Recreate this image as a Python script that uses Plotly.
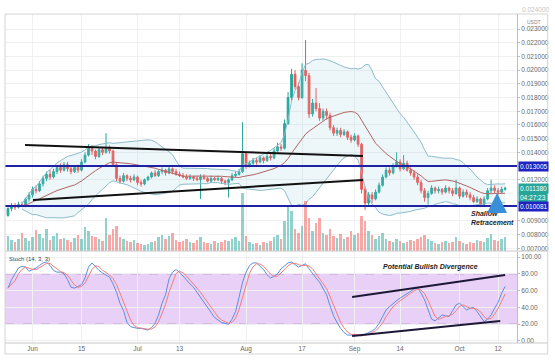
import pandas as pd
import plotly.graph_objects as go

# ---------------- data (daily, starting 2020-05-25) ----------------
start_date = "2020-05-25"
opens = [
    .00940, .00990, .01010, .01000, .01020, .01010, .01060, .01090, .01130, .01120,
    .01170, .01210, .01240, .01220, .01260, .01290, .01270, .01310, .01280, .01260,
    .01290, .01270, .01330, .01380, .01430, .01410, .01370, .01420, .01400, .01430,
    .01410, .01310, .01210, .01190, .01230, .01210, .01200, .01220, .01180, .01170,
    .01200, .01220, .01250, .01230, .01260, .01270, .01250, .01280, .01260, .01240,
    .01230, .01220, .01210, .01220, .01210, .01200, .01220, .01210, .01190, .01210,
    .01200, .01210, .01190, .01180, .01200, .01230, .01240, .01260, .01390, .01300,
    .01320, .01340, .01330, .01360, .01340, .01370, .01360, .01410, .01440, .01430,
    .01610, .01800, .01970, .01880, .01800, .02000, .01960, .01680, .01760, .01720,
    .01650, .01700, .01670, .01580, .01540, .01560, .01530, .01550, .01510, .01490,
    .01520, .01460, .01130, .01030, .01090, .01060, .01110, .01160, .01220, .01270,
    .01250, .01300, .01330, .01280, .01320, .01270, .01250, .01220, .01180, .01120,
    .01070, .01100, .01140, .01120, .01130, .01110, .01140, .01120, .01100, .01140,
    .01080, .01110, .01090, .01070, .01040, .01060, .01020, .01060, .01120, .01140,
    .01120, .01110, .01130,
]
highs = [
    .01000, .01030, .01030, .01040, .01040, .01070, .01110, .01150, .01160, .01190,
    .01230, .01260, .01270, .01280, .01310, .01320, .01330, .01330, .01300, .01300,
    .01310, .01350, .01400, .01460, .01450, .01420, .01440, .01440, .01540, .01450,
    .01420, .01320, .01230, .01250, .01240, .01230, .01240, .01230, .01200, .01210,
    .01230, .01260, .01270, .01270, .01290, .01280, .01300, .01290, .01280, .01260,
    .01250, .01240, .01240, .01230, .01230, .01240, .01240, .01220, .01230, .01220,
    .01230, .01220, .01200, .01210, .01250, .01260, .01280, .01620, .01400, .01340,
    .01360, .01360, .01380, .01370, .01390, .01390, .01430, .01470, .01460, .01640,
    .01840, .02010, .02000, .01910, .02050, .02220, .01980, .01790, .01870, .01760,
    .01720, .01720, .01690, .01600, .01580, .01580, .01570, .01560, .01530, .01540,
    .01530, .01470, .01150, .01110, .01110, .01130, .01180, .01240, .01290, .01290,
    .01320, .01400, .01350, .01380, .01340, .01290, .01270, .01240, .01200, .01140,
    .01120, .01160, .01150, .01150, .01140, .01160, .01150, .01140, .01200, .01150,
    .01130, .01130, .01110, .01090, .01080, .01070, .01080, .01140, .01200, .01160,
    .01140, .01150, .01150,
]
lows = [
    .00930, .00970, .00980, .00990, .01000, .01000, .01040, .01070, .01100, .01110,
    .01150, .01190, .01200, .01210, .01240, .01250, .01260, .01260, .01240, .01250,
    .01250, .01260, .01320, .01370, .01380, .01350, .01360, .01380, .01390, .01390,
    .01300, .01190, .01170, .01180, .01190, .01180, .01190, .01160, .01150, .01160,
    .01190, .01210, .01220, .01220, .01240, .01230, .01240, .01240, .01230, .01220,
    .01210, .01200, .01200, .01190, .01190, .01060, .01200, .01180, .01180, .01190,
    .01190, .01170, .01160, .01070, .01190, .01220, .01230, .01250, .01280, .01290,
    .01310, .01310, .01320, .01320, .01330, .01340, .01350, .01400, .01410, .01420,
    .01600, .01780, .01860, .01780, .01790, .01920, .01650, .01660, .01700, .01630,
    .01630, .01640, .01560, .01520, .01520, .01510, .01520, .01490, .01470, .01480,
    .01440, .01100, .00980, .01010, .01030, .01050, .01100, .01150, .01210, .01230,
    .01240, .01290, .01260, .01270, .01260, .01230, .01200, .01160, .01100, .01040,
    .01020, .01090, .01100, .01100, .01090, .01100, .01100, .01080, .01090, .01060,
    .01070, .01070, .01050, .01030, .01030, .01000, .01010, .01050, .01100, .01100,
    .01090, .01100, .01120,
]
closes = [
    .00990, .01010, .01000, .01020, .01010, .01060, .01090, .01130, .01120, .01170,
    .01210, .01240, .01220, .01260, .01290, .01270, .01310, .01280, .01260, .01290,
    .01270, .01330, .01380, .01430, .01410, .01370, .01420, .01400, .01430, .01410,
    .01310, .01210, .01190, .01230, .01210, .01200, .01220, .01180, .01170, .01200,
    .01220, .01250, .01230, .01260, .01270, .01250, .01280, .01260, .01240, .01230,
    .01220, .01210, .01220, .01210, .01200, .01220, .01210, .01190, .01210, .01200,
    .01210, .01190, .01180, .01200, .01230, .01240, .01260, .01390, .01300, .01320,
    .01340, .01330, .01360, .01340, .01370, .01360, .01410, .01440, .01430, .01610,
    .01800, .01970, .01880, .01800, .02000, .01960, .01680, .01760, .01720, .01650,
    .01700, .01670, .01580, .01540, .01560, .01530, .01550, .01510, .01490, .01520,
    .01460, .01130, .01030, .01090, .01060, .01110, .01160, .01220, .01270, .01250,
    .01300, .01330, .01280, .01320, .01270, .01250, .01220, .01180, .01120, .01070,
    .01100, .01140, .01120, .01130, .01110, .01140, .01120, .01100, .01140, .01080,
    .01110, .01090, .01070, .01040, .01060, .01020, .01060, .01120, .01140, .01120,
    .01110, .01130, .01138,
]
volumes = [
    15, 11, 9, 12, 18, 13, 10, 14, 21, 17,
    13, 22, 11, 15, 18, 12, 13, 11, 9, 13,
    16, 12, 24, 20, 15, 14, 12, 10, 33, 16,
    22, 25, 14, 12, 10, 9, 11, 8, 7, 6,
    7, 9, 10, 14, 16, 12, 15, 18, 11, 9,
    10, 12, 9, 8, 11, 14, 9, 8, 7, 10,
    8, 9, 11, 10, 12, 14, 10, 58, 15, 9,
    7, 8, 6, 9, 8, 10, 14, 16, 12, 30,
    45, 40, 22, 18, 25, 50, 33, 20, 28, 33,
    18, 16, 22, 15, 13, 17, 12, 14, 20, 16,
    18, 35, 30, 20, 16, 12, 15, 18, 12, 10,
    9, 12, 10, 8, 9, 11, 10, 12, 14, 16,
    12, 10, 8, 7, 9, 10, 8, 9, 14, 10,
    8, 7, 9, 8, 11, 10, 9, 13, 17, 11,
    10, 12, 14,
]
stoch_k = [
    63, 73, 80, 87, 89, 88, 83, 85, 87, 90,
    93, 94, 90, 84, 82, 82, 80, 73, 64, 63,
    65, 67, 75, 88, 93, 88, 84, 81, 79, 76,
    68, 58, 45, 36, 22, 17, 16, 15, 15, 14,
    13, 16, 21, 31, 45, 55, 74, 82, 85, 82,
    77, 73, 68, 64, 58, 52, 46, 40, 33, 28,
    25, 22, 21, 20, 26, 35, 52, 70, 82, 90,
    93, 93, 89, 85, 79, 75, 77, 80, 86, 90,
    93, 94, 91, 88, 90, 92, 86, 80, 75, 70,
    62, 55, 42, 30, 22, 15, 10, 7, 7, 8,
    7, 6, 8, 10, 12, 15, 21, 29, 37, 41,
    45, 48, 51, 54, 57, 60, 62, 63, 57, 49,
    38, 26, 24, 27, 31, 30, 29, 36, 43, 45,
    41, 37, 39, 40, 35, 29, 23, 26, 31, 39,
    46, 57, 65,
]
tick_dates = ["2020-06-01", "2020-06-15", "2020-07-01", "2020-07-13", "2020-08-01",
              "2020-08-17", "2020-09-01", "2020-09-14", "2020-10-01", "2020-10-12"]
tick_text = ["Jun", "15", "Jul", "13", "Aug", "17", "Sep", "14", "Oct", "12"]
price_ticks = [0.007, 0.008, 0.009, 0.012, 0.013, 0.014, 0.015, 0.016, 0.017,
               0.018, 0.019, 0.020, 0.021, 0.022, 0.023]
stoch_ticks = [0, 20, 40, 60, 80, 100]
level_high = 0.013005
level_low = 0.010081
last_price = 0.011380
countdown = "04:27:23"

# ---------------- derived ----------------
dates = pd.date_range(start_date, periods=len(closes), freq="D")
t0 = dates[0]


def day(i):
    return t0 + pd.Timedelta(days=i)


cl = pd.Series(closes)
basis = cl.rolling(20, min_periods=5).mean()
sd = cl.rolling(20, min_periods=5).std(ddof=0)
upper = basis + 2 * sd
lower = basis - 2 * sd
stoch_d = pd.Series(stoch_k).rolling(3, min_periods=1).mean()

UP = "#26a69a"
DN = "#ef5350"
vol_colors = ["rgba(38,166,154,0.5)" if c >= o else "rgba(239,83,80,0.5)"
              for o, c in zip(opens, closes)]

FONT = "Liberation Sans, Arial, sans-serif"
fig = go.Figure()

# Volume
fig.add_trace(go.Bar(x=dates, y=volumes, marker=dict(color=vol_colors, line=dict(width=0)),
                     xaxis="x", yaxis="y2", width=0.72 * 86400000, showlegend=False))
# Bollinger
fig.add_trace(go.Scatter(x=dates, y=upper, mode="lines", line=dict(color="#8dbccc", width=1),
                         xaxis="x", yaxis="y", showlegend=False))
fig.add_trace(go.Scatter(x=dates, y=lower, mode="lines", line=dict(color="#8dbccc", width=1),
                         fill="tonexty", fillcolor="rgba(150,200,220,0.17)",
                         xaxis="x", yaxis="y", showlegend=False))
fig.add_trace(go.Scatter(x=dates, y=basis, mode="lines", line=dict(color="#b06464", width=1),
                         xaxis="x", yaxis="y", showlegend=False))
# Candles
fig.add_trace(go.Candlestick(
    x=dates, open=opens, high=highs, low=lows, close=closes,
    increasing=dict(line=dict(color=UP, width=1), fillcolor=UP),
    decreasing=dict(line=dict(color=DN, width=1), fillcolor=DN),
    whiskerwidth=0, xaxis="x", yaxis="y", showlegend=False))
# Stoch
fig.add_trace(go.Scatter(x=dates, y=stoch_k, mode="lines", line=dict(color="#5b8fe0", width=1),
                         xaxis="x", yaxis="y3", showlegend=False))
fig.add_trace(go.Scatter(x=dates, y=stoch_d, mode="lines", line=dict(color="#f07f7f", width=1),
                         xaxis="x", yaxis="y3", showlegend=False))

# geometry: plot area px x 5..517, y 14..343
SEP = (343 - 251) / 329
ST_TOP = (343 - 252) / 329

shapes = []
# stoch band
shapes.append(dict(type="rect", xref="paper", x0=0, x1=1, yref="y3", y0=20, y1=80,
                   fillcolor="#e9d0f6", line=dict(width=0), layer="below"))
for lv in (20, 80):
    shapes.append(dict(type="line", xref="paper", x0=0, x1=1, yref="y3", y0=lv, y1=lv,
                       line=dict(color="#a488b8", width=1, dash="dash"), layer="below"))
# horizontal blue levels
for lv in (level_high, level_low):
    shapes.append(dict(type="line", xref="paper", x0=0, x1=1, yref="y", y0=lv, y1=lv,
                       line=dict(color="#1f23a3", width=2)))
# trend lines (price)
shapes.append(dict(type="line", xref="x", yref="y", x0=day(4.86), y0=0.014538,
                   x1=day(101.4), y1=0.013735, line=dict(color="#111111", width=2)))
shapes.append(dict(type="line", xref="x", yref="y", x0=day(7.14), y0=0.010523,
                   x1=day(101.4), y1=0.011983, line=dict(color="#111111", width=2)))
# trend lines (stoch)
shapes.append(dict(type="line", xref="x", yref="y3", x0=day(98.3), y0=52.4,
                   x1=day(142.0), y1=78.6, line=dict(color="#1d1838", width=2)))
shapes.append(dict(type="line", xref="x", yref="y3", x0=day(98.3), y0=6.0,
                   x1=day(140.6), y1=23.8, line=dict(color="#1d1838", width=2)))
# pane separator and frame
shapes.append(dict(type="line", xref="paper", yref="paper", x0=0, x1=1.06, y0=SEP, y1=SEP,
                   line=dict(color="#c8c8c8", width=1)))
shapes.append(dict(type="line", xref="paper", yref="paper", x0=0, x1=1.06, y0=0, y1=0,
                   line=dict(color="#c8c8c8", width=1)))
shapes.append(dict(type="rect", xref="paper", yref="paper", x0=0, x1=1.06, y0=-0.0334, y1=1,
                   line=dict(color="#d4d4d4", width=1)))

annotations = []


def price_box(y, text, color, yshift=0):
    annotations.append(dict(xref="paper", x=1, xanchor="left", xshift=1, yref="y", y=y,
                            yshift=yshift, text=text, showarrow=False, bgcolor=color,
                            font=dict(color="white", size=6.5, family=FONT), borderpad=1))


price_box(level_high, f"{level_high:.6f}", "#1f23c0")
price_box(last_price, f"{last_price:.6f}", "#26a69a")
price_box(last_price, countdown, "#26a69a", yshift=-9)
price_box(level_low, f"{level_low:.6f}", "#1f23c0")
annotations.append(dict(xref="paper", yref="paper", x=1, xanchor="left", xshift=8, y=1,
                        yshift=-3, text="USDT", showarrow=False,
                        font=dict(size=5, color="#888", family=FONT)))
annotations.append(dict(xref="paper", yref="paper", x=1, xanchor="left", xshift=3, y=1,
                        yanchor="bottom", yshift=-1, text="0.024000", showarrow=False,
                        font=dict(size=6.5, color="#c4c4c4", family=FONT)))
annotations.append(dict(xref="paper", yref="paper", x=0.004, xanchor="left", y=ST_TOP,
                        yanchor="top", yshift=-2, text="Stoch (14, 3, 3)", showarrow=False,
                        font=dict(size=6, color="#444", family=FONT)))
annotations.append(dict(xref="x", yref="y3", x=day(120.6), y=88,
                        text="<b><i>Potential Bullish Divergence</i></b>", showarrow=False,
                        font=dict(size=7, color="#222", family=FONT)))
annotations.append(dict(xref="x", yref="y", x=day(131.6), y=0.009246, xanchor="left",
                        align="left", text="<b><i>Shallow<br>Retracement</i></b>",
                        showarrow=False, font=dict(size=7, color="#222", family=FONT)))
annotations.append(dict(xref="x", yref="y", x=day(139.7), y=0.011034, ax=0, ay=15,
                        axref="pixel", ayref="pixel", text="", showarrow=True,
                        arrowhead=2, arrowsize=1, arrowwidth=4, arrowcolor="#3a8fd8"))

axis_font = dict(size=6.5, color="#666", family=FONT)
fig.update_layout(
    width=555, height=360,
    margin=dict(l=5, r=38, t=14, b=17),
    paper_bgcolor="white", plot_bgcolor="white",
    showlegend=False, bargap=0,
    font=dict(family=FONT),
    xaxis=dict(type="date", domain=[0, 1], anchor="y3",
               range=[day(-0.86), day(145.4)],
               tickvals=tick_dates, ticktext=tick_text, tickfont=axis_font,
               showgrid=True, gridcolor="#f0f0f0", zeroline=False,
               rangeslider=dict(visible=False), showline=False, ticks=""),
    yaxis=dict(domain=[SEP, 1], anchor="x", side="right",
               range=[0.006801, 0.024100], tickvals=price_ticks, tickformat=".6f",
               tickfont=axis_font, showgrid=True, gridcolor="#f0f0f0", zeroline=False,
               showline=True, linecolor="#bdbdbd", ticks="outside", ticklen=2,
               tickcolor="#bdbdbd"),
    yaxis2=dict(overlaying="y", anchor="x", range=[0, 237], visible=False),
    yaxis3=dict(domain=[0, ST_TOP], anchor="x", side="right", range=[-2.4, 106],
                tickvals=stoch_ticks, tickformat=".2f", tickfont=axis_font,
                showgrid=True, gridcolor="#f0f0f0", zeroline=False,
                showline=True, linecolor="#bdbdbd", ticks="outside", ticklen=2,
                tickcolor="#bdbdbd"),
    shapes=shapes, annotations=annotations,
)

fig.write_html("out.html", config={"displayModeBar": False},
               post_script="document.body.style.margin='0';document.body.style.overflow='hidden';")
